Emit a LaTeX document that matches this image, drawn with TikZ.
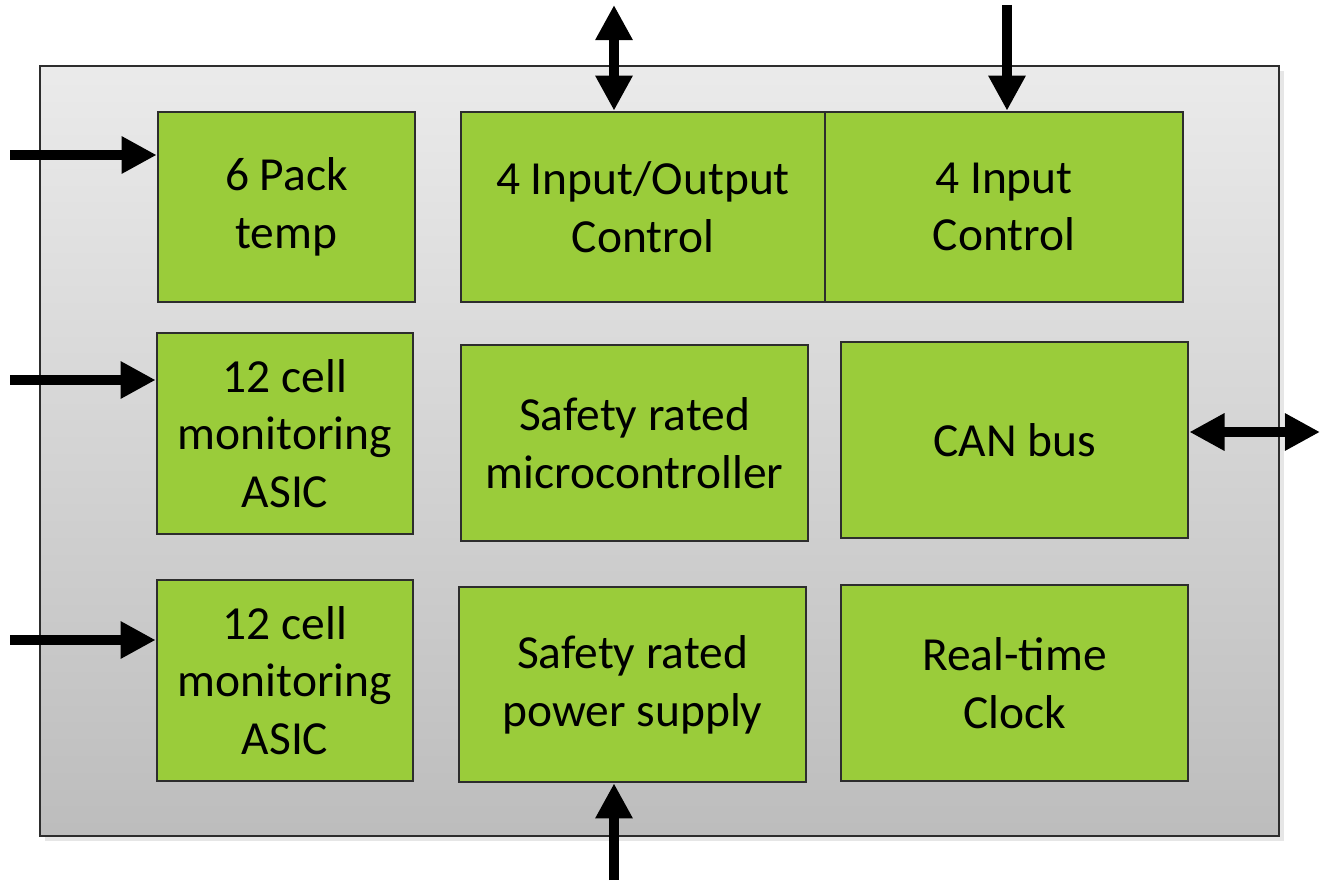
\documentclass[tikz,border=0pt]{standalone}
\usepackage{fontspec}
\setmainfont{Carlito}
\usetikzlibrary{arrows.meta,positioning,shadows}
\definecolor{chipgreen}{RGB}{154,204,58}
\definecolor{frame}{RGB}{45,45,45}

\tikzset{
  blk/.style={draw=frame,line width=0.7pt,fill=chipgreen,align=center,
    font=\fontsize{13.5}{16.4}\selectfont,inner sep=0pt},
  sig/.style={line width=3.1pt,-{Triangle[length=10pt,width=10pt]}},
  sigboth/.style={line width=3.1pt,{Triangle[length=10pt,width=10pt]}-{Triangle[length=10pt,width=10pt]}}
}

\begin{document}
\begin{tikzpicture}[x=0.01cm,y=-0.01cm]
        \useasboundingbox (0,0) rectangle (1322,882);
        \draw[frame,line width=0.6pt,top color=black!8,bottom color=black!26,
          drop shadow={opacity=0.2,shadow xshift=1.5pt,shadow yshift=-1.5pt}] (40,66) rectangle (1279,836);
        % top row
        \node[blk,minimum width=2.57cm,minimum height=1.9cm] (temp) at (286.5,207) {6 Pack\\temp};
        \node[blk,minimum width=3.64cm,minimum height=1.9cm] (io) at (643,207) {4 Input/Output\\Control};
        \node[blk,minimum width=3.58cm,minimum height=1.9cm] (inp) at (1004,207) {4 Input\\Control};
        % middle row
        \node[blk,minimum width=2.56cm,minimum height=2.01cm] (asicA) at (285,433.5) {12 cell\\monitoring\\ASIC};
        \node[blk,minimum width=3.47cm,minimum height=1.96cm] (mcu) at (634.5,443) {Safety rated\\microcontroller};
        \node[blk,minimum width=3.47cm,minimum height=1.96cm] (can) at (1014.5,440) {CAN bus};
        % bottom row
        \node[blk,minimum width=2.56cm,minimum height=2.01cm] (asicB) at (285,680.5) {12 cell\\monitoring\\ASIC};
        \node[blk,minimum width=3.47cm,minimum height=1.95cm] (psu) at (632.5,684.5) {Safety rated\\power supply};
        \node[blk,minimum width=3.47cm,minimum height=1.96cm] (rtc) at (1014.5,683) {Real-time\\Clock};
        % signals
        \foreach \y/\n in {155/temp,380/asicA,640/asicB}{
          \coordinate (in\n) at (10,\y);
          \draw[sig] (in\n) -- (in\n -| \n.west);
        }
        \coordinate (ioTop) at (614,5);
        \coordinate (inpTop) at (1007,5);
        \coordinate (canEnd) at (1320,432);
        \coordinate (psuEnd) at (614,880);
        \draw[sigboth] (ioTop) -- (ioTop |- io.north);
        \draw[sig] (inpTop) -- (inpTop |- inp.north);
        \draw[sigboth] (canEnd -| can.east) -- (canEnd);
        \draw[sig] (psuEnd) -- (psuEnd |- psu.south);
      \end{tikzpicture}
\end{document}
